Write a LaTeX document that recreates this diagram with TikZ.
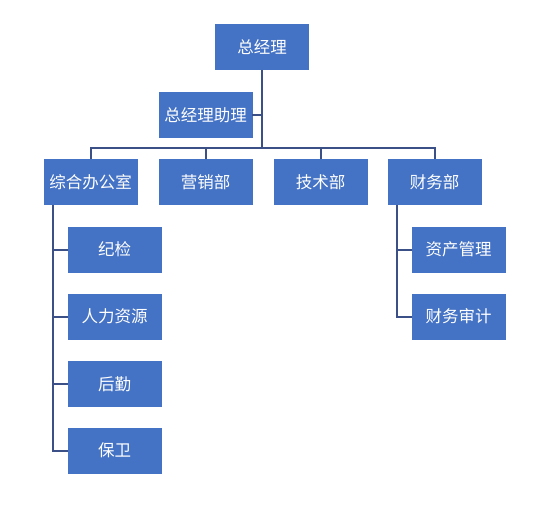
\documentclass[tikz,border=0pt]{standalone}
\usepackage{fontspec}
\setmainfont{Noto Sans CJK SC}
\usetikzlibrary{positioning}
\definecolor{boxblue}{HTML}{4472C4}
\definecolor{linkblue}{HTML}{3C5088}
\tikzset{
  unit/.style={draw=boxblue,fill=boxblue,text=white,minimum width=93pt,minimum height=45pt,inner sep=0pt,font=\fontsize{16.5}{18}\selectfont},
  link/.style={draw=linkblue,line width=2pt}
}
\begin{document}
\begin{tikzpicture}[x=1pt,y=-1pt]
      \useasboundingbox (0,0) rectangle (548,509);
      \node[unit] (gm) at (262,47) {总经理};
      \node[unit] (assistant) at (205.5,115) {总经理助理};
      \node[unit] (office) at (90.5,182) {综合办公室};
      \node[unit] (sales) at (205.5,182) {营销部};
      \node[unit] (tech) at (320.5,182) {技术部};
      \node[unit] (finance) at (434.5,182) {财务部};
      \node[unit] (discipline) at (114.5,249.5) {纪检};
      \node[unit] (hr) at (114.5,316.5) {人力资源};
      \node[unit] (logistics) at (114.5,384) {后勤};
      \node[unit] (guard) at (114.5,450.5) {保卫};
      \node[unit] (assets) at (458.5,249.5) {资产管理};
      \node[unit] (audit) at (458.5,316.5) {财务审计};
      \coordinate (bar) at (262,148);
      \coordinate (otrunk) at ([xshift=9pt]office.south west);
      \coordinate (ftrunk) at ([xshift=9pt]finance.south west);
      \draw[link] (gm.south) -- (bar);
      \draw[link] (assistant.east) -- (assistant.east -| gm.south);
      \draw[link] (office.north) |- (bar) -| (finance.north);
      \draw[link] (sales.north) -- (sales.north |- bar);
      \draw[link] (tech.north) -- (tech.north |- bar);
      \draw[link] (otrunk) |- (guard.west);
      \foreach \c in {discipline,hr,logistics}
        \draw[link] (\c.west) -- (\c.west -| otrunk);
      \draw[link] (ftrunk) |- (audit.west);
      \draw[link] (assets.west) -- (assets.west -| ftrunk);
    \end{tikzpicture}
\end{document}
